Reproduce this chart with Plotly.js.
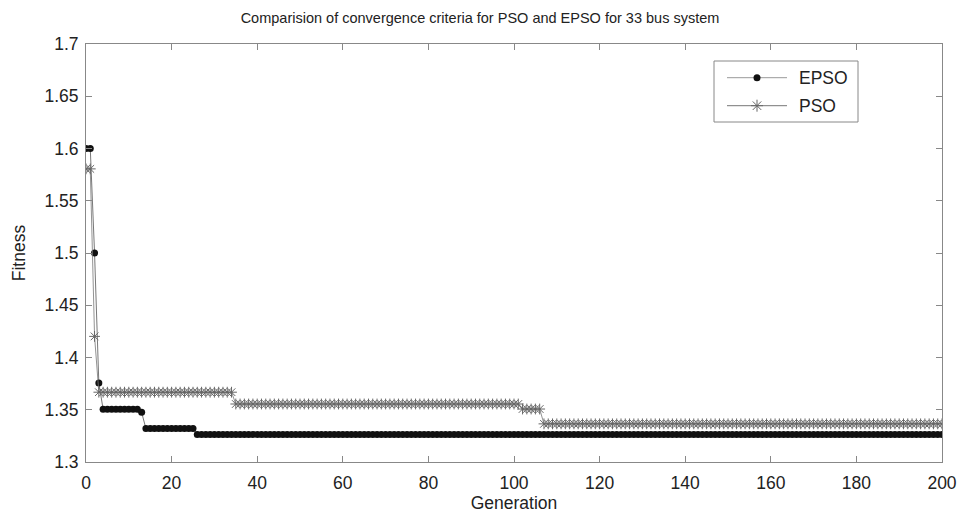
<!DOCTYPE html>
<html>
<head>
<meta charset="utf-8">
<script src="https://cdn.plot.ly/plotly-3.0.1.min.js"></script>
<style>html,body{margin:0;padding:0;background:#fff}#chart{width:960px;height:516px}</style>
</head>
<body>
<div id="chart"></div>
<script>
// Fitness values, as runs of (value, number of generations)
const epsoLevels = [1.600, 1.500, 1.3755, 1.3505, 1.3475, 1.3320, 1.3262];
const epsoCounts = [2, 1, 1, 9, 1, 12, 175];
const psoLevels  = [1.5805, 1.4202, 1.3668, 1.3555, 1.3507, 1.3365];
const psoCounts  = [2, 1, 32, 67, 5, 94];
const seriesNames = ['EPSO', 'PSO'];
const xTicks = [0, 20, 40, 60, 80, 100, 120, 140, 160, 180, 200];
const yTicks = [1.3, 1.35, 1.4, 1.45, 1.5, 1.55, 1.6, 1.65, 1.7];

function expand(levels, counts) {
  const out = [];
  levels.forEach((v, i) => { for (let k = 0; k < counts[i]; k++) out.push(v); });
  return out;
}
const epso = expand(epsoLevels, epsoCounts);
const pso = expand(psoLevels, psoCounts);
const genE = epso.map((_, i) => i);
const genP = pso.map((_, i) => i);

const font = "'Liberation Sans', Arial, sans-serif";
const W = 960, H = 516, M = {l: 86, r: 18, t: 44, b: 54};
const PW = W - M.l - M.r, PH = H - M.t - M.b;
const px = v => (v - M.l) / PW;      // pixel -> paper x
const py = v => (H - M.b - v) / PH;  // pixel -> paper y

const epsoMarker = {symbol: 'circle', size: 7, color: '#111'};
const psoMarker = {symbol: 'asterisk-open', size: 9, color: '#666', line: {color: '#777', width: 1}};

// custom legend geometry (pixels)
const lg = {x0: 714, x1: 858, y0: 61, y1: 122, lineX0: 727, lineX1: 787, rows: [77.7, 105.7], textX: 797};

const traces = [
  {x: genE, y: epso, name: seriesNames[0], mode: 'lines+markers',
   line: {color: '#555', width: 0.8}, marker: epsoMarker, showlegend: false},
  {x: genP, y: pso, name: seriesNames[1], mode: 'lines+markers',
   line: {color: '#777', width: 0.8}, marker: psoMarker, showlegend: false},
  // legend sample markers on an overlay axis pair mapped to paper space
  {x: [px((lg.lineX0 + lg.lineX1) / 2)], y: [py(lg.rows[0])], xaxis: 'x2', yaxis: 'y2',
   mode: 'markers', marker: epsoMarker, showlegend: false, cliponaxis: false, hoverinfo: 'skip'},
  {x: [px((lg.lineX0 + lg.lineX1) / 2)], y: [py(lg.rows[1])], xaxis: 'x2', yaxis: 'y2',
   mode: 'markers', marker: {symbol: 'asterisk-open', size: 10, color: '#666', line: {color: '#777', width: 1}},
   showlegend: false, cliponaxis: false, hoverinfo: 'skip'}
];
const axisCommon = {
  showgrid: false, zeroline: false, showline: true, linecolor: '#888', linewidth: 1,
  mirror: 'ticks', ticks: 'inside', ticklen: 6, tickcolor: '#888',
  tickfont: {family: font, size: 17.5, color: '#222'}
};
const shapes = [
  {type: 'rect', xref: 'paper', yref: 'paper', x0: px(lg.x0), x1: px(lg.x1), y0: py(lg.y1), y1: py(lg.y0),
   line: {color: '#888', width: 1}, fillcolor: '#fff', layer: 'below'},
  {type: 'line', xref: 'paper', yref: 'paper', x0: px(lg.lineX0), x1: px(lg.lineX1), y0: py(lg.rows[0]), y1: py(lg.rows[0]),
   line: {color: '#999', width: 1}, layer: 'below'},
  {type: 'line', xref: 'paper', yref: 'paper', x0: px(lg.lineX0), x1: px(lg.lineX1), y0: py(lg.rows[1]), y1: py(lg.rows[1]),
   line: {color: '#777', width: 1}, layer: 'below'}
];
const annotations = seriesNames.map((n, i) => ({
  text: n, xref: 'paper', yref: 'paper', x: px(lg.textX), y: py(lg.rows[i]),
  xanchor: 'left', yanchor: 'middle', showarrow: false,
  font: {family: font, size: 17.5, color: '#222'}
}));
const layout = {
  width: W, height: H, margin: M,
  paper_bgcolor: '#fff', plot_bgcolor: '#fff',
  title: {text: 'Comparision of convergence criteria for PSO and EPSO for 33 bus system',
          font: {family: font, size: 14.5, color: '#222'}, x: 0.5, xanchor: 'center', y: 0.965, yanchor: 'middle'},
  xaxis: Object.assign({}, axisCommon, {
    range: [0, 200], tickvals: xTicks, ticktext: xTicks.map(String), ticklabelstandoff: 5,
    title: {text: 'Generation', font: {family: font, size: 17.5, color: '#222'}, standoff: 2}
  }),
  yaxis: Object.assign({}, axisCommon, {
    range: [1.3, 1.7], tickvals: yTicks, ticktext: yTicks.map(String), ticklabelstandoff: 3,
    title: {text: 'Fitness', font: {family: font, size: 17.5, color: '#222'}, standoff: 14}
  }),
  xaxis2: {overlaying: 'x', range: [0, 1], visible: false, fixedrange: true},
  yaxis2: {overlaying: 'y', range: [0, 1], visible: false, fixedrange: true},
  showlegend: false,
  shapes: shapes,
  annotations: annotations
};
Plotly.newPlot('chart', traces, layout, {displayModeBar: false, staticPlot: true});
</script>
</body>
</html>
